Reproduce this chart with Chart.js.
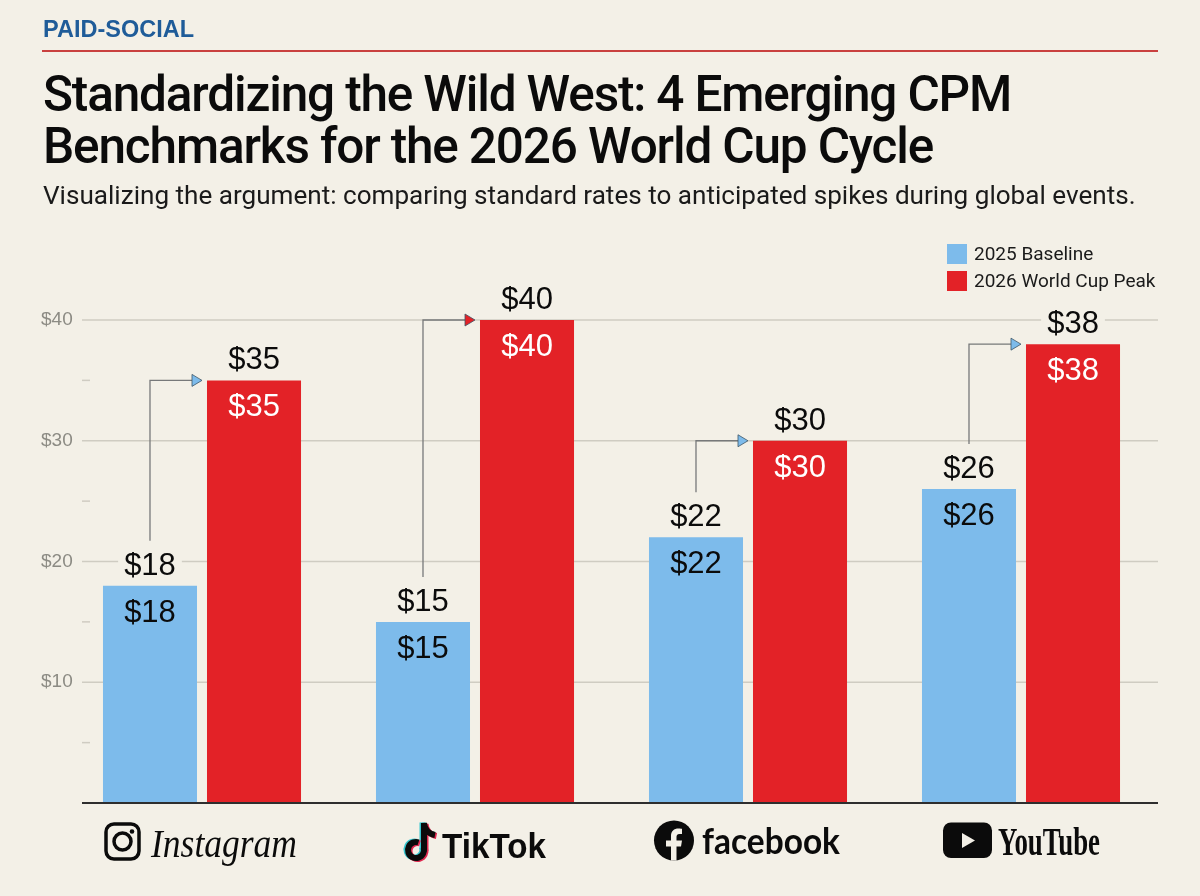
<!DOCTYPE html>
<html>
<head>
<meta charset="utf-8">
<title>CPM Benchmarks</title>
<script src="https://cdn.jsdelivr.net/npm/chart.js@4"></script>
<style>
  html, body { margin: 0; padding: 0; background: #F3F0E7; }
  body { width: 1200px; height: 896px; position: relative; overflow: hidden; font-family: Roboto, sans-serif; }
  #chart { position: absolute; left: 0; top: 0; }
  .abs { position: absolute; white-space: nowrap; }
  .kicker { left: 43px; top: 15px; font: 700 23.5px/28px "Liberation Sans", sans-serif; color: #1F5C99; }
  .rule { left: 42px; top: 50px; width: 1116px; height: 2px; background: #C9413F; }
  .title { left: 43px; top: 68px; font: 500 49.5px/52px Roboto, sans-serif; letter-spacing: -1.15px; color: #0B0B0B; }
  .sub { left: 43px; top: 178px; font: 400 26.1px/34px Roboto, sans-serif; color: #1A1A1A; }
  .legend-box { left: 947px; width: 20px; height: 20px; }
  .legend-text { left: 974px; font: 400 19px/20px Roboto, sans-serif; color: #1A1A1A; }
</style>
</head>
<body>
<canvas id="chart" width="1200" height="896"></canvas>
<div class="abs kicker">PAID-SOCIAL</div>
<div class="abs rule"></div>
<div class="abs title">Standardizing the Wild West: 4 Emerging CPM<br>Benchmarks for the 2026 World Cup Cycle</div>
<div class="abs sub">Visualizing the argument: comparing standard rates to anticipated spikes during global events.</div>
<div id="legend"></div>
<script>
// ---- data ----
const categories = ['Instagram', 'TikTok', 'facebook', 'YouTube'];
const baseline2025 = [18, 15, 22, 26];
const peak2026 = [35, 40, 30, 38];
const seriesNames = ['2025 Baseline', '2026 World Cup Peak'];
const seriesColors = ['#7DBBEB', '#E32227'];
const arrowColors = ['#7DBBEB', '#E32227', '#7DBBEB', '#7DBBEB'];

const BG = '#F3F0E7';
const INK = '#0B0B0B';

// ---- legend ----
document.getElementById('legend').innerHTML = seriesNames.map((name, i) => `
  <div class="abs legend-box" style="top:${244 + i * 26.5}px;background:${seriesColors[i]}"></div>
  <div class="abs legend-text" style="top:${244 + i * 26.5}px">${name}</div>`).join('');

// ---- logos ----
function fitText(ctx, text, x, baseline, width, font) {
  ctx.save();
  ctx.font = font;
  ctx.textAlign = 'left';
  ctx.textBaseline = 'alphabetic';
  ctx.fillStyle = INK;
  const w = ctx.measureText(text).width;
  ctx.translate(x, baseline);
  ctx.scale(width / w, 1);
  ctx.fillText(text, 0, 0);
  ctx.restore();
}

function drawInstagram(ctx, cx) {
  const x = cx - 98;
  ctx.strokeStyle = INK;
  ctx.fillStyle = INK;
  ctx.lineWidth = 3.5;
  ctx.beginPath();
  ctx.roundRect(x + 2, 824, 33, 35, 8);
  ctx.stroke();
  ctx.beginPath();
  ctx.arc(x + 18.5, 841.5, 8.5, 0, Math.PI * 2);
  ctx.stroke();
  ctx.beginPath();
  ctx.arc(x + 28, 831.5, 2.3, 0, Math.PI * 2);
  ctx.fill();
  fitText(ctx, 'Instagram', x + 47, 857, 146, "italic 40px 'Liberation Serif'");
}

function drawTikTok(ctx, cx) {
  const x = cx - 70;
  const note = (dx, dy, color) => {
    ctx.strokeStyle = color;
    ctx.lineWidth = 6;
    ctx.beginPath();
    ctx.arc(x + 11 + dx, 850 + dy, 8, -Math.PI * 0.1, Math.PI * 1.6);
    ctx.stroke();
    ctx.beginPath();
    ctx.moveTo(x + 19 + dx, 850 + dy);
    ctx.lineTo(x + 19 + dx, 823 + dy);
    ctx.quadraticCurveTo(x + 20 + dx, 833 + dy, x + 30 + dx, 835 + dy);
    ctx.stroke();
  };
  note(-1.5, -0.5, '#35C6CF');
  note(1.5, 1, '#E0284F');
  note(0, 0, INK);
  fitText(ctx, 'TikTok', x + 37, 857.5, 104, "bold 35px 'Liberation Sans'");
}

function drawFacebook(ctx, cx) {
  const x = cx - 94, y = 820.5;
  ctx.fillStyle = INK;
  ctx.beginPath();
  ctx.arc(x + 20, y + 20, 20, 0, Math.PI * 2);
  ctx.fill();
  ctx.save();
  ctx.translate(x, y);
  ctx.fillStyle = BG;
  ctx.fill(new Path2D('M17 40V26H12V20H17V15.5C17 10.5 20 8 24.5 8C26.5 8 28 8.3 28 8.3V13.5H25.5C23 13.5 22.5 15 22.5 16.5V20H28L27 26H22.5V40Z'));
  ctx.restore();
  fitText(ctx, 'facebook', x + 48, 853.5, 138, "bold 37px Lato");
}

function drawYouTube(ctx, cx) {
  const x = cx - 78;
  ctx.fillStyle = INK;
  ctx.beginPath();
  ctx.roundRect(x, 822.5, 49, 35.5, 8);
  ctx.fill();
  ctx.fillStyle = BG;
  ctx.beginPath();
  ctx.moveTo(x + 19, 833);
  ctx.lineTo(x + 32, 840.5);
  ctx.lineTo(x + 19, 848);
  ctx.closePath();
  ctx.fill();
  fitText(ctx, 'YouTube', x + 55, 855, 102, "bold 39px 'Liberation Sans Narrow'");
}

const logoDrawers = [drawInstagram, drawTikTok, drawFacebook, drawYouTube];

// ---- plugins ----
const gridPlugin = {
  id: 'gridPlugin',
  beforeDatasetsDraw(chart) {
    const { ctx, scales: { y } } = chart;
    ctx.save();
    ctx.strokeStyle = '#CFCCC2';
    ctx.lineWidth = 1.5;
    y.ticks.forEach(t => {
      if (t.value === 0) return;
      const py = y.getPixelForValue(t.value);
      ctx.beginPath();
      ctx.moveTo(82, py);
      ctx.lineTo(t.value % 10 === 0 ? 1158 : 90, py);
      ctx.stroke();
    });
    ctx.restore();
  },
  afterDatasetsDraw(chart) {
    const { ctx, scales: { y } } = chart;
    ctx.save();
    ctx.strokeStyle = '#2E2E2E';
    ctx.lineWidth = 2;
    ctx.beginPath();
    ctx.moveTo(82, y.getPixelForValue(0));
    ctx.lineTo(1158, y.getPixelForValue(0));
    ctx.stroke();
    ctx.restore();
  }
};

const annotationPlugin = {
  id: 'annotationPlugin',
  afterDatasetsDraw(chart) {
    const { ctx } = chart;
    const blue = chart.getDatasetMeta(0).data;
    const red = chart.getDatasetMeta(1).data;
    ctx.save();

    // elbow arrows from baseline to peak
    categories.forEach((c, i) => {
      const a = blue[i], b = red[i];
      const tipX = b.x - b.width / 2 - 5;
      ctx.strokeStyle = '#77797A';
      ctx.lineWidth = 1.3;
      ctx.beginPath();
      ctx.moveTo(a.x, a.y - 45);
      ctx.lineTo(a.x, b.y);
      ctx.lineTo(tipX - 10, b.y);
      ctx.stroke();
      ctx.fillStyle = arrowColors[i];
      ctx.strokeStyle = '#3E5566';
      ctx.lineWidth = 0.8;
      ctx.beginPath();
      ctx.moveTo(tipX, b.y);
      ctx.lineTo(tipX - 10, b.y - 6);
      ctx.lineTo(tipX - 10, b.y + 6);
      ctx.closePath();
      ctx.fill();
      ctx.stroke();
    });

    // value labels, above and inside each bar
    ctx.font = "31px 'Liberation Sans'";
    ctx.textAlign = 'center';
    ctx.textBaseline = 'middle';
    chart.data.datasets.forEach((ds, d) => {
      chart.getDatasetMeta(d).data.forEach((bar, i) => {
        const label = '$' + ds.data[i];
        const w = ctx.measureText(label).width;
        ctx.fillStyle = BG;
        ctx.fillRect(bar.x - w / 2 - 6, bar.y - 37, w + 12, 32);
        ctx.fillStyle = INK;
        ctx.fillText(label, bar.x, bar.y - 19.5);
        ctx.fillStyle = d === 0 ? INK : '#FFFFFF';
        ctx.fillText(label, bar.x, bar.y + 27.5);
      });
    });

    // brand logos under the axis
    const x = chart.scales.x;
    categories.forEach((c, i) => logoDrawers[i](ctx, x.getPixelForValue(i)));
    ctx.restore();
  }
};

// ---- chart ----
new Chart(document.getElementById('chart').getContext('2d'), {
  type: 'bar',
  data: {
    labels: categories,
    datasets: [
      { label: seriesNames[0], data: baseline2025, backgroundColor: seriesColors[0] },
      { label: seriesNames[1], data: peak2026, backgroundColor: seriesColors[1] }
    ]
  },
  options: {
    responsive: false,
    animation: false,
    devicePixelRatio: 1,
    categoryPercentage: 0.762,
    barPercentage: 0.904,
    layout: { padding: { top: 320, bottom: 93, left: 0, right: 42.5 } },
    plugins: { legend: { display: false }, tooltip: { enabled: false } },
    scales: {
      x: {
        afterFit(scale) { scale.height = 0; },
        grid: { display: false, drawTicks: false },
        border: { display: false },
        ticks: { display: false }
      },
      y: {
        min: 0,
        max: 40,
        afterFit(scale) { scale.width = 65.5; },
        grid: { display: false, drawTicks: false },
        border: { display: false },
        ticks: {
          stepSize: 5,
          autoSkip: false,
          mirror: true,
          padding: -24.5,
          color: '#8C8B84',
          font: { family: 'Liberation Sans', size: 19 },
          callback: v => (v > 0 && v % 10 === 0 ? '$' + v : '')
        }
      }
    }
  },
  plugins: [gridPlugin, annotationPlugin]
});
</script>
</body>
</html>
